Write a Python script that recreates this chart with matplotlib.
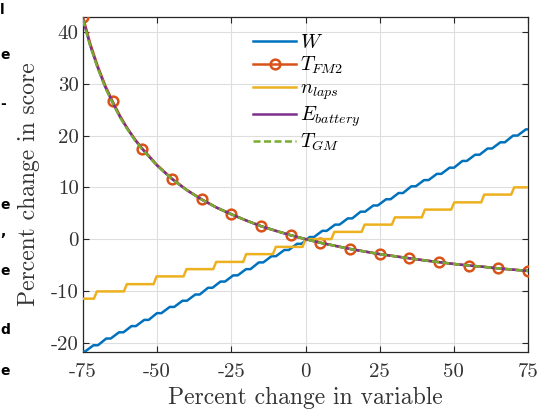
import numpy as np
import matplotlib
matplotlib.use('Agg')
import matplotlib.pyplot as plt

# ---------------- data ----------------
x_ticks = [-75, -50, -25, 0, 25, 50, 75]
y_ticks = [-20, -10, 0, 10, 20, 30, 40]
x_tick_labels = ['-75', '-50', '-25', '0', '25', '50', '75']
y_tick_labels = ['-20', '-10', '0', '10', '20', '30', '40']

# T_FM2 / E_battery / T_GM curves
T_x = [-75, -72.5, -70, -67.5, -65, -62.5, -60, -57.5, -55, -50, -45, -40, -35,
       -30, -25, -20, -15, -10, -5, 0, 5, 10, 15, 20, 25, 30, 35, 40, 45, 50,
       55, 60, 65, 70, 75]
T_FM2 = [42.9, 37.7, 33.4, 29.7, 26.6, 23.8, 21.4, 19.3, 17.5, 14.3, 11.7, 9.5,
         7.7, 6.1, 4.8, 3.6, 2.5, 1.6, 0.75, 0.0, -0.7, -1.3, -1.9, -2.4, -2.9,
         -3.3, -3.7, -4.1, -4.45, -4.8, -5.1, -5.35, -5.65, -5.9, -6.15]
E_battery = [42.5, 37.3, 33.1, 29.4, 26.4, 23.6, 21.3, 19.2, 17.4, 14.2, 11.6,
             9.45, 7.65, 6.1, 4.8, 3.6, 2.5, 1.6, 0.75, 0.0, -0.7, -1.3, -1.9,
             -2.4, -2.9, -3.3, -3.7, -4.1, -4.45, -4.8, -5.1, -5.35, -5.65,
             -5.9, -6.15]
T_GM = [42.4, 37.2, 33.0, 29.3, 26.3, 23.5, 21.2, 19.1, 17.3, 14.2, 11.6,
        9.45, 7.65, 6.1, 4.8, 3.6, 2.5, 1.6, 0.75, 0.0, -0.7, -1.3, -1.9,
        -2.4, -2.9, -3.3, -3.7, -4.1, -4.45, -4.8, -5.1, -5.35, -5.65,
        -5.9, -6.15]
T_marker_x = [-75, -65, -55, -45, -35, -25, -15, -5, 5, 15, 25, 35, 45, 55, 65, 75]

# W: staircase (step centres and levels)
W_step_x = [-75, -70.7, -66.4, -62.1, -57.9, -53.6, -49.3, -45.0, -40.7, -36.4,
            -32.1, -27.9, -23.6, -19.3, -15.0, -10.7, -6.4, -2.1, 2.1, 6.4,
            10.7, 15.0, 19.3, 23.6, 27.9, 32.1, 36.4, 40.7, 45.0, 49.3, 53.6,
            57.9, 62.1, 66.4, 70.7, 75]
W_levels = [-21.7, -20.5, -19.2, -18.0, -16.8, -15.6, -14.3, -13.1, -11.9,
            -10.7, -9.4, -8.2, -7.0, -5.8, -4.5, -3.3, -2.1, -0.9, 0.4, 1.6,
            2.8, 4.0, 5.3, 6.5, 7.7, 8.9, 10.2, 11.4, 12.6, 13.8, 15.1, 16.3,
            17.5, 18.7, 20.0, 21.2]

# n_laps: staircase (levels and rise positions)
n_laps_levels = [-11.5, -10.1, -8.7, -7.2, -5.8, -4.4, -2.9, -1.5, 0.0, 1.4,
                 2.8, 4.2, 5.7, 7.1, 8.6, 10.0]
n_laps_edges = [-70.8, -60.7, -50.7, -40.6, -30.6, -20.5, -10.5, -0.5, 9.2,
                19.4, 29.6, 39.7, 49.6, 59.7, 69.8]

labels = [r'$W$', r'$T_{FM2}$', r'$n_{laps}$', r'$E_{battery}$', r'$T_{GM}$']
colors = ['#0072BD', '#D95319', '#EDB120', '#7E2F8E', '#77AC30']

# ---------------- figure ----------------
plt.rcParams['mathtext.fontset'] = 'cm'
plt.rcParams['axes.formatter.use_mathtext'] = True

fig = plt.figure(figsize=(5.53, 4.11), dpi=100)
ax = fig.add_axes([0.150, 0.1436, 0.805, 0.815])

# build staircase vertices
half = 0.75
wx, wy = [], []
for c, L in zip(W_step_x, W_levels):
    a = max(-75, c - half)
    b = min(75, c + half)
    wx += [a, b]
    wy += [L, L]

nx, ny = [-75], [n_laps_levels[0]]
for i, e in enumerate(n_laps_edges):
    nx += [e - 0.5, e + 0.5]
    ny += [n_laps_levels[i], n_laps_levels[i + 1]]
nx.append(75)
ny.append(n_laps_levels[-1])

lw = 1.8
mk_idx = [T_x.index(v) for v in T_marker_x]
ax.plot(wx, wy, color=colors[0], lw=lw, label=labels[0], zorder=3)
ax.plot(T_x, T_FM2, color=colors[1], lw=lw, marker='o', markevery=mk_idx,
        markersize=7, markerfacecolor='none', markeredgewidth=1.8,
        label=labels[1], zorder=3)
ax.plot(nx, ny, color=colors[2], lw=lw, label=labels[2], zorder=3)
ax.plot(T_x, E_battery, color=colors[3], lw=lw, label=labels[3], zorder=3)
ax.plot(T_x, T_GM, color=colors[4], lw=lw, dashes=(2.8, 1.4), label=labels[4],
        zorder=3)

ax.set_xlim(-75, 75)
ax.set_ylim(-21.8, 42.9)
ax.set_xticks(x_ticks)
ax.set_yticks(y_ticks)
tick_font = dict(family='cmr10', size=15)
ax.set_xticklabels(x_tick_labels, **tick_font, color='#333333')
ax.set_yticklabels(y_tick_labels, **tick_font, color='#333333')
ax.tick_params(direction='in', top=True, right=True, length=4, width=0.8,
               color='#262626')
ax.tick_params(axis='y', pad=3)
ax.tick_params(axis='x', pad=8)
ax.grid(True, color='#dedede', lw=0.8, zorder=0)
ax.set_axisbelow(True)
for s in ax.spines.values():
    s.set_color('#262626')
    s.set_linewidth(0.9)

ax.set_xlabel('Percent change in variable', family='cmr10', size=17,
              color='#333333', labelpad=4.5)
ax.set_ylabel('Percent change in score', family='cmr10', size=17,
              color='#333333', labelpad=8)

leg = ax.legend(loc='upper left', bbox_to_anchor=(0.365, 0.975), frameon=False,
                fontsize=14.5, handlelength=2.1, handletextpad=0.2,
                labelspacing=0.12, borderaxespad=0)

# letters of surrounding document at the left edge
edge_letters = [('l', 10), ('e', 55), ('-', 104), ('e', 205), (',', 232),
                ('e', 271), ('d', 330), ('e', 371)]
for ch, ypx in edge_letters:
    fig.text(0.0, 1 - ypx / 411, ch, fontsize=10, fontweight='bold',
             family='DejaVu Sans', va='center', ha='left', color='black')

fig.savefig('out.png', dpi=100)
